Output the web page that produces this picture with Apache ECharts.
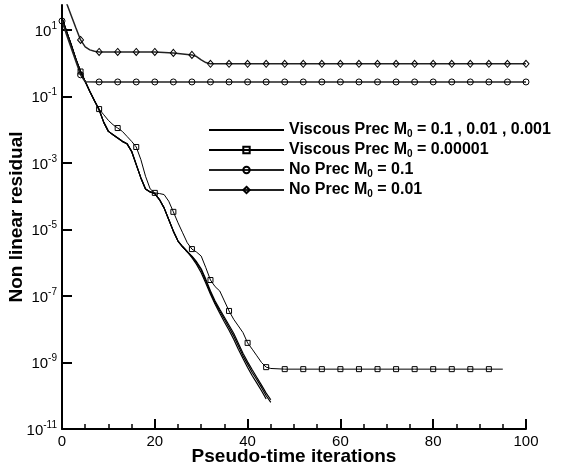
<!DOCTYPE html>
<html>
<head>
<meta charset="utf-8">
<script src="https://cdn.jsdelivr.net/npm/echarts@6/dist/echarts.min.js"></script>
<style>
html,body{margin:0;padding:0;background:#fff;}
#chart{width:562px;height:470px;}
</style>
</head>
<body>
<div id="chart"></div>
<script>
// log10 of the non-linear residual
const seriesNames = [
  'Viscous Prec M0 = 0.1 , 0.01 , 0.001',
  'Viscous Prec M0 = 0.00001',
  'No Prec M0 = 0.1',
  'No Prec M0 = 0.01'
];
const xTicks = [0, 20, 40, 60, 80, 100];
const yTickExponents = [-11, -9, -7, -5, -3, -1, 1];

const iterSolidA = [0,1,2,3,4,5,6,7,8,9,10,11,12,13,14,15,16,17,18,19,20,21,22,23,24,25,26,27,28,29,30,31,32,33,34,35,36,37,38,39,40,41,42,43,44,45];
const logSolidA = [1.36,0.95,0.55,0.12,-0.25,-0.55,-0.85,-1.13,-1.40,-1.78,-2.05,-2.15,-2.25,-2.35,-2.42,-2.65,-3.05,-3.45,-3.78,-3.87,-3.92,-4.10,-4.35,-4.70,-5.05,-5.35,-5.52,-5.67,-5.82,-6.00,-6.22,-6.55,-6.90,-7.20,-7.45,-7.70,-7.95,-8.20,-8.50,-8.80,-9.05,-9.30,-9.52,-9.75,-10.00,-10.20];
const iterSolidB = [0,1,2,3,4,5,6,7,8,9,10,11,12,13,14,15,16,17,18,19,20,21,22,23,24,25,26,27,28,29,30,31,32,33,34,35,36,37,38,39,40,41,42,43,44];
const logSolidB = [1.36,0.95,0.55,0.12,-0.25,-0.55,-0.85,-1.13,-1.40,-1.78,-2.05,-2.15,-2.25,-2.35,-2.42,-2.65,-3.05,-3.45,-3.78,-3.87,-3.92,-4.10,-4.35,-4.70,-5.05,-5.35,-5.52,-5.67,-5.85,-6.05,-6.30,-6.62,-6.95,-7.25,-7.52,-7.78,-8.03,-8.30,-8.60,-8.88,-9.15,-9.40,-9.62,-9.85,-10.10];
const iterSolidC = [0,1,2,3,4,5,6,7,8,9,10,11,12,13,14,15,16,17,18,19,20,21,22,23,24,25,26,27,28,29,30,31,32,33,34,35,36,37,38,39,40,41,42,43,44,45];
const logSolidC = [1.36,0.95,0.55,0.12,-0.25,-0.55,-0.85,-1.13,-1.40,-1.78,-2.05,-2.15,-2.25,-2.35,-2.42,-2.65,-3.05,-3.45,-3.78,-3.87,-3.92,-4.10,-4.35,-4.70,-5.05,-5.35,-5.52,-5.67,-5.80,-5.97,-6.18,-6.50,-6.85,-7.15,-7.40,-7.64,-7.88,-8.12,-8.42,-8.72,-8.98,-9.22,-9.45,-9.68,-9.92,-10.12];

const iterSquare = [0,1,2,3,4,5,6,7,8,9,10,11,12,13,14,15,16,17,18,19,20,21,22,23,24,25,26,27,28,29,30,31,32,33,34,35,36,37,38,39,40,41,42,43,44,45,48,52,56,60,64,68,72,76,80,84,88,92,95];
const logSquare = [1.36,0.95,0.55,0.12,-0.25,-0.55,-0.85,-1.13,-1.38,-1.55,-1.72,-1.85,-1.95,-2.05,-2.20,-2.35,-2.52,-2.90,-3.40,-3.78,-3.90,-3.92,-3.95,-4.15,-4.47,-4.80,-5.10,-5.40,-5.59,-5.68,-5.80,-6.15,-6.52,-6.72,-6.85,-7.15,-7.45,-7.70,-7.90,-8.10,-8.41,-8.60,-8.80,-9.00,-9.14,-9.18,-9.20,-9.20,-9.20,-9.20,-9.20,-9.20,-9.20,-9.20,-9.20,-9.20,-9.20,-9.20,-9.20];
const squareMarkerIters = [4,8,12,16,20,24,28,32,36,40,44,48,52,56,60,64,68,72,76,80,84,88,92];

const iterCircle = [0,1,2,3,4,5,8,12,16,20,24,28,32,36,40,44,48,52,56,60,64,68,72,76,80,84,88,92,96,100];
const logCircle = [1.27,0.85,0.45,0.05,-0.35,-0.56,-0.564,-0.564,-0.564,-0.564,-0.564,-0.564,-0.564,-0.564,-0.564,-0.564,-0.564,-0.564,-0.564,-0.564,-0.564,-0.564,-0.564,-0.564,-0.564,-0.564,-0.564,-0.564,-0.564,-0.564];
const circleMarkerIters = [0,4,8,12,16,20,24,28,32,36,40,44,48,52,56,60,64,68,72,76,80,84,88,92,96,100];

const iterDiamond = [0,1,2,3,4,5,6,7,8,12,16,20,24,28,29,30,31,32,36,40,44,48,52,56,60,64,68,72,76,80,84,88,92,96,100];
const logDiamond = [2.2,1.8,1.43,1.06,0.70,0.49,0.40,0.36,0.34,0.34,0.34,0.34,0.31,0.25,0.20,0.10,0.02,-0.02,-0.02,-0.02,-0.02,-0.02,-0.02,-0.02,-0.02,-0.02,-0.02,-0.02,-0.02,-0.02,-0.02,-0.02,-0.02,-0.02,-0.02];
const diamondMarkerIters = [0,4,8,12,16,20,24,28,32,36,40,44,48,52,56,60,64,68,72,76,80,84,88,92,96,100];

const FONT = '"Liberation Sans", Arial, Helvetica, sans-serif';

function pairs(xs, ys, markerIters) {
  return xs.map((x, i) => {
    const item = { value: [x, ys[i]] };
    if (markerIters && markerIters.indexOf(x) < 0) item.symbol = 'none';
    return item;
  });
}

const hollow = { color: 'rgba(255,255,255,0)', borderColor: '#000', borderWidth: 1 };

const chart = echarts.init(document.getElementById('chart'), null, { renderer: 'canvas' });
chart.setOption({
  animation: false,
  backgroundColor: '#fff',
  grid: { left: 62, right: 36, top: 5, bottom: 41, outerBoundsMode: 'none', containLabel: false },
  legend: {
    orient: 'vertical',
    left: 203,
    top: 115,
    itemWidth: 75,
    itemHeight: 8,
    itemGap: 0,
    data: [
      { name: seriesNames[0], itemStyle: { opacity: 0 } },
      seriesNames[1], seriesNames[2], seriesNames[3]
    ],
    formatter: (name) => name.replace('M0', 'M{sub|0}'),
    textStyle: {
      fontFamily: FONT, fontSize: 16, fontWeight: 'bold', color: '#000', lineHeight: 20,
      rich: { sub: { fontFamily: FONT, fontSize: 10, fontWeight: 'bold', color: '#000', padding: [9, 0, 0, 0] } }
    }
  },
  xAxis: {
    type: 'value', min: 0, max: 100, interval: 20,
    name: 'Pseudo-time iterations', nameLocation: 'middle', nameGap: 18, nameMoveOverlap: false,
    nameTextStyle: { fontFamily: FONT, fontSize: 19, fontWeight: 'bold', color: '#000' },
    axisLine: { show: true, onZero: false, lineStyle: { color: '#000', width: 2 } },
    axisTick: { show: true, inside: true, length: 10, lineStyle: { color: '#000', width: 2 } },
    minorTick: { show: true, splitNumber: 4, length: 5, lineStyle: { color: '#000', width: 1.5 } },
    splitLine: { show: false },
    axisLabel: { color: '#000', fontFamily: FONT, fontSize: 15, margin: 5, customValues: xTicks }
  },
  yAxis: {
    type: 'value', min: -11, max: 1.75,
    name: 'Non linear residual', nameLocation: 'middle', nameGap: 36, nameMoveOverlap: false,
    nameTextStyle: { fontFamily: FONT, fontSize: 19, fontWeight: 'bold', color: '#000' },
    axisLine: { show: true, onZero: false, lineStyle: { color: '#000', width: 2 } },
    axisTick: { show: true, inside: true, length: 10, lineStyle: { color: '#000', width: 2 }, customValues: yTickExponents },
    splitLine: { show: false },
    axisLabel: {
      customValues: yTickExponents,
      margin: 5,
      formatter: (v) => '{b|10}{s|' + v + '}',
      rich: {
        b: { fontFamily: FONT, fontSize: 15, color: '#000', lineHeight: 18, verticalAlign: 'bottom' },
        s: { fontFamily: FONT, fontSize: 10, color: '#000', lineHeight: 10, verticalAlign: 'top' }
      }
    }
  },
  series: [
    { name: seriesNames[0], type: 'line', data: pairs(iterSolidA, logSolidA), symbol: 'none', lineStyle: { color: '#000', width: 1.2 }, itemStyle: { color: '#000' }, z: 3 },
    { name: seriesNames[0], type: 'line', data: pairs(iterSolidB, logSolidB), symbol: 'none', lineStyle: { color: '#000', width: 1.2 }, itemStyle: { color: '#000' }, z: 3 },
    { name: seriesNames[0], type: 'line', data: pairs(iterSolidC, logSolidC), symbol: 'none', lineStyle: { color: '#000', width: 1.2 }, itemStyle: { color: '#000' }, z: 3 },
    { name: seriesNames[1], type: 'line', data: pairs(iterSquare, logSquare, squareMarkerIters), symbol: 'rect', symbolSize: 5, lineStyle: { color: '#000', width: 1 }, itemStyle: hollow, z: 4 },
    { name: seriesNames[2], type: 'line', data: pairs(iterCircle, logCircle, circleMarkerIters), symbol: 'circle', symbolSize: 6, lineStyle: { color: '#222', width: 1.5 }, itemStyle: hollow, z: 4 },
    { name: seriesNames[3], type: 'line', data: pairs(iterDiamond, logDiamond, diamondMarkerIters), symbol: 'diamond', symbolSize: [6, 7], lineStyle: { color: '#222', width: 1.5 }, itemStyle: hollow, z: 4 }
  ]
});
</script>
</body>
</html>
